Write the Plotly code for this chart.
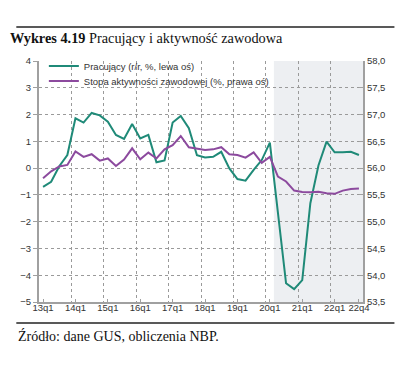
import plotly.graph_objects as go

categories = [f"{y}q{q}" for y in range(13, 23) for q in range(1, 5)]
tick_labels = ["13q1", "14q1", "15q1", "16q1", "17q1", "18q1", "19q1", "20q1", "21q1", "22q1", "22q4"]

pracujacy = [-0.70, -0.51, 0.07, 0.49, 1.86, 1.70, 2.06, 1.97, 1.73, 1.24,
             1.09, 1.65, 1.11, 1.24, 0.22, 0.29, 1.70, 1.95, 1.49, 0.48,
             0.40, 0.42, 0.61, -0.01, -0.41, -0.47, -0.07, 0.30, 0.95, -1.60,
             -4.30, -4.52, -4.18, -1.31, 0.10, 0.99, 0.59, 0.59, 0.61, 0.49]

stopa_aktywnosci = [55.81, 55.94, 56.03, 56.06, 56.31, 56.21, 56.26, 56.14, 56.18, 56.04,
                    56.16, 56.37, 56.165, 56.29, 56.18, 56.35, 56.43, 56.60, 56.39, 56.36,
                    56.34, 56.35, 56.39, 56.26, 56.245, 56.195, 56.295, 56.10, 56.21, 55.84,
                    55.75, 55.58, 55.555, 55.55, 55.56, 55.53, 55.52, 55.58, 55.61, 55.62]

shade_start = "20q2"

name_green = "Pracujący (r/r, %, lewa oś)"
name_purple = "Stopa aktywności zawodowej (%, prawa oś)"

x_idx = list(range(len(categories)))
tickvals = [categories.index(t) for t in tick_labels]

GREEN = "#1f8a78"
PURPLE = "#8c4a9e"
GRID = "#9a9a9a"
AXIS = "#a0a0a0"
TICKFONT = dict(family="Liberation Sans, Arial, sans-serif", size=9.5, color="#333333")
LEGFONT = dict(family="Liberation Sans, Arial, sans-serif", size=9.5, color="#333333")

W, H = 409, 359  # page body adds an 8px offset

fig = go.Figure()
fig.add_trace(go.Scatter(x=x_idx, y=pracujacy, mode="lines", name=name_green,
                         line=dict(color=GREEN, width=2), yaxis="y", legend="legend"))
fig.add_trace(go.Scatter(x=x_idx, y=stopa_aktywnosci, mode="lines", name=name_purple,
                         line=dict(color=PURPLE, width=2), yaxis="y2", legend="legend2"))

s = categories.index(shade_start) - 0.5
fig.add_shape(type="rect", xref="x", yref="paper", x0=s, x1=len(categories) - 0.5,
              y0=0, y1=1, fillcolor="#edeff2", line_width=0, layer="below")

# decorative rules above title and below chart
fig.add_shape(type="line", xref="paper", yref="paper", x0=-0.07, x1=1.097, y0=1.141, y1=1.141,
              line=dict(color="#222222", width=1.5))
fig.add_shape(type="line", xref="paper", yref="paper", x0=-0.07, x1=1.097, y0=-0.087, y1=-0.087,
              line=dict(color="#222222", width=1.5))

fig.update_layout(
    width=W, height=H,
    margin=dict(l=25, r=54, t=53, b=65),
    paper_bgcolor="white", plot_bgcolor="white",
    separators=", ",
    title=dict(text="<b>Wykres 4.19</b> Pracujący i aktywność zawodowa",
               x=2 / W, xanchor="left", xref="container",
               y=1 - 30 / H, yanchor="middle", yref="container",
               font=dict(family="Liberation Serif, Times New Roman, serif", size=14.3, color="#111111")),
    showlegend=True,
    legend=dict(x=0.015, y=0.979, xanchor="left", yanchor="middle", bgcolor="rgba(0,0,0,0)",
                font=LEGFONT, itemwidth=30),
    legend2=dict(x=0.015, y=0.917, xanchor="left", yanchor="middle", bgcolor="rgba(0,0,0,0)",
                 font=LEGFONT, itemwidth=30),
    xaxis=dict(range=[-0.5, len(categories) - 0.5], tickmode="array", tickvals=tickvals,
               ticktext=tick_labels, showgrid=False, zeroline=False,
               showline=True, linecolor=AXIS, linewidth=2, ticks="inside", ticklen=3,
               tickcolor=AXIS, tickfont=TICKFONT, ticklabelstandoff=-4,
               minor=dict(tickmode="linear", tick0=-0.5, dtick=4, showgrid=True,
                          gridcolor=GRID, griddash="dot", gridwidth=1, ticks="")),
    yaxis=dict(range=[-5, 4], dtick=1, showgrid=True, gridcolor=GRID, griddash="dot",
               gridwidth=1, zeroline=False, showline=True, linecolor=AXIS, linewidth=2,
               ticks="outside", ticklen=4, tickcolor=AXIS, tickfont=TICKFONT),
    yaxis2=dict(range=[53.5, 58], dtick=0.5, tickformat=".1f", overlaying="y", side="right",
                showgrid=False, zeroline=False, showline=True, linecolor=AXIS, linewidth=2,
                ticks="inside", ticklen=4, tickcolor=AXIS, tickfont=TICKFONT),
)

fig.add_annotation(text="Źródło: dane GUS, obliczenia NBP.", xref="paper", yref="paper",
                   x=-0.07, y=-0.141, xanchor="left", yanchor="middle", showarrow=False,
                   font=dict(family="Liberation Serif, Times New Roman, serif", size=14, color="#111111"))

fig.write_html("out.html")
